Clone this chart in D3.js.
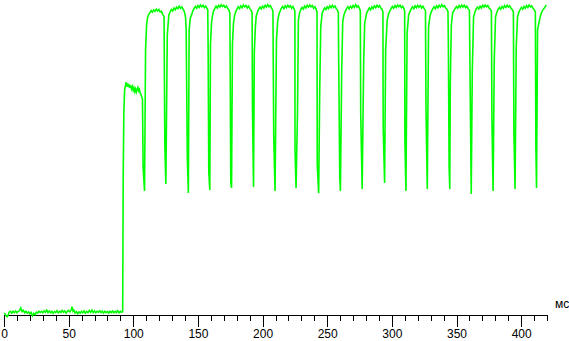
<!DOCTYPE html>
<html>
<head>
<meta charset="UTF-8">
<title>response</title>
<style>
  body { margin: 0; background: #fff; }
  svg { display: block; }
  .trace { fill: none; stroke: #00ff00; stroke-width: 1.6px; stroke-linejoin: miter; }
  .axis path, .axis line { stroke: #000; shape-rendering: crispEdges; }
  .axis text, .unit { font-family: "Liberation Sans", Arial, sans-serif; font-size: 12px; fill: #000; }
</style>
<script src="https://cdn.jsdelivr.net/npm/d3@7/dist/d3.min.js"></script>
</head>
<body>
<svg width="569" height="341"></svg>
<script>
// time in ms, level in relative units
var baseline = [
  [0,0.3],[0.8,0.1],[1.6,-0.6],[2.4,-0.9],[3.2,-0.4],[4,0.6],[5,0.9],[6,0.3],[7,0.9],[8,0.5],
  [9,1.0],[10,0.4],[11,0.9],[12,1.1],[13,2.0],[14,0.8],[15,1.2],[16,0.4],[17,0.9],[18,0.3],
  [19,0.7],[20,0.1],[21,0.5],[22,-0.6],[23,0.2],[24,-0.2],[25,0.6],[26,0.3],[27,0.9],[28,0.5],
  [29,0.9],[30,0.4],[31,1.0],[32,0.6],[33,1.3],[34,0.5],[35,1.0],[36,0.4],[37,0.9],[38,0.2],
  [39,0.8],[40,0.5],[41,1.1],[42,0.4],[43,0.9],[44,0.5],[45,1.2],[46,0.6],[47,1.0],[48,0.3],
  [49,0.9],[50,1.2],[51,0.7],[52,1.4],[52.6,2.4],[53.4,0.9],[54,1.3],[55,0.3],[56,0.8],[57,0.1],
  [58,0.7],[59,0.3],[60,0.9],[61,0.4],[62,1.0],[63,0.3],[64,0.8],[65,0.5],[66,1.2],[67,0.6],
  [68,1.3],[69,0.5],[70,1.0],[71,0.4],[72,0.9],[73,0.6],[74,1.1],[75,0.5],[76,1.0],[77,0.3],
  [78,0.9],[79,0.5],[80,0.8],[81,0.3],[82,0.9],[83,0.5],[84,1.0],[85,0.4],[86,0.9],[87,0.5],
  [88,1.1],[89,0.4],[90,0.9],[91,0.6],[91.8,0.8]
];

var firstFrame = [
  [92.2,45.7],[92.7,67],[93.3,74.7],[93.9,76.0],[94.5,77.3],[95.1,75.8],[95.7,76.9],[96.3,75.6],
  [96.9,76.5],[97.5,75.3],[98.1,76.2],[98.7,75.0],[99.3,75.8],[99.9,74.6],[100.5,75.4],[101.1,74.2],
  [101.7,75.0],[102.3,73.9],[102.9,74.8],[103.5,75.5],[104.1,74.4],[104.7,74.9],[105.3,73.7],
  [105.9,73.2],[106.5,72.3],[107.1,71.7]
];

var frames = [
  [[107.6,49.0],[108.7,41.0],[109.5,88.0],[110.3,96.5],[111.0,98.7],[111.8,99.8],[112.8,100.4],[113.8,101.1],[114.8,100.6],[115.8,101.4],[116.8,100.9],[117.8,101.6],[118.8,101.0],[119.8,101.5],[120.8,100.7],[121.8,100.9],[122.8,99.8],[123.8,99.2]],
  [[124.4,56.3],[125.2,43.3],[126.3,93.0],[127.5,99.7],[128.5,100.6],[129.5,101.5],[130.5,101.0],[131.5,102.0],[132.5,101.4],[133.5,102.3],[134.5,101.8],[135.5,102.6],[136.5,101.9],[137.5,102.4],[138.5,101.6],[139.5,100.8],[140.4,99.0],[140.9,95.0]],
  [[141.8,52.0],[142.6,40.3],[143.2,94.7],[144.1,98.7],[145.1,99.7],[146.0,101.0],[147.0,101.8],[148.0,102.5],[149.0,101.9],[150.0,102.8],[151.0,102.2],[152.0,103.0],[153.0,102.4],[154.0,102.9],[155.0,102.1],[156.0,102.6],[157.0,101.9],[157.6,101.4]],
  [[157.9,88.0],[158.4,47.3],[159.2,41.3],[159.7,89.7],[160.5,97.0],[161.2,99.3],[162.0,100.9],[163.0,101.8],[164.0,102.6],[165.0,102.0],[166.0,102.9],[167.0,102.3],[168.0,103.1],[169.0,102.5],[170.0,102.9],[171.0,102.2],[172.0,102.7],[173.0,101.9],[174.0,101.3],[174.7,100.2]],
  [[175.0,78.7],[175.4,43.7],[176.0,42.0],[176.7,90.0],[177.5,97.0],[178.3,99.3],[179.2,100.7],[180.2,101.6],[181.2,102.4],[182.2,101.8],[183.2,102.7],[184.2,102.1],[185.2,103.0],[186.2,102.4],[187.2,102.8],[188.2,102.0],[189.2,102.6],[190.2,101.8],[191.2,101.2],[191.9,100.3]],
  [[192.2,68.7],[193.0,42.3],[193.6,87.0],[194.4,95.5],[195.1,99.3],[196.0,100.6],[197.0,101.6],[198.0,102.3],[199.0,101.7],[200.0,102.6],[201.0,102.0],[202.0,102.9],[203.0,102.3],[204.0,103.1],[205.0,102.4],[206.0,102.8],[207.0,102.0],[208.0,101.1]],
  [[208.65,59.0],[209.65,41.0],[210.75,91.3],[211.75,98.0],[212.7,99.9],[213.6,101.0],[214.5,101.9],[215.5,102.5],[216.5,101.8],[217.5,102.7],[218.5,102.1],[219.5,102.9],[220.5,102.3],[221.5,102.8],[222.5,101.9],[223.5,102.5],[224.5,101.6],[225.0,100.9]],
  [[225.1,54.7],[225.9,42.0],[227.0,67.0],[227.7,98.0],[228.6,100.3],[229.5,101.4],[230.5,102.2],[231.5,101.6],[232.5,102.6],[233.5,102.0],[234.5,102.9],[235.5,102.3],[236.5,103.0],[237.5,102.4],[238.5,102.8],[239.5,101.9],[240.5,102.4],[241.5,101.5],[242.1,100.6]],
  [[242.3,49.7],[243.4,40.3],[244.2,74.7],[245.0,95.7],[246.1,100.3],[247.0,101.2],[248.0,102.0],[249.0,101.5],[250.0,102.4],[251.0,101.8],[252.0,102.7],[253.0,102.1],[254.0,102.9],[255.0,102.2],[256.0,102.7],[257.0,101.8],[258.0,101.2],[258.6,100.4]],
  [[258.9,83.7],[259.7,45.7],[260.2,41.0],[261.2,80.7],[262.0,97.5],[263.0,99.8],[264.0,100.9],[265.0,101.8],[266.0,102.4],[267.0,101.7],[268.0,102.6],[269.0,102.0],[270.0,102.8],[271.0,102.2],[272.0,103.1],[273.0,102.3],[274.0,102.7],[275.0,101.8],[275.6,101.0]],
  [[275.9,67.0],[277.05,41.7],[278.2,84.0],[279.0,97.0],[280.5,100.3],[281.5,101.2],[282.5,102.0],[283.5,101.4],[284.5,102.4],[285.5,101.8],[286.5,102.7],[287.5,102.1],[288.5,102.9],[289.5,102.3],[290.5,102.8],[291.5,102.0],[292.5,101.5],[293.1,100.6]],
  [[293.3,62.0],[294.4,43.7],[295.2,88.0],[296.4,98.0],[297.4,99.9],[298.4,101.0],[299.4,101.8],[300.4,102.5],[301.4,101.9],[302.4,102.8],[303.4,102.2],[304.4,103.0],[305.4,102.4],[306.4,102.9],[307.4,102.1],[308.4,102.6],[309.4,101.7],[309.9,101.0]],
  [[310.1,57.3],[310.9,41.0],[311.8,93.7],[313.0,99.7],[314.0,100.8],[315.0,101.7],[316.0,102.4],[317.0,101.8],[318.0,102.7],[319.0,102.1],[320.0,102.9],[321.0,102.3],[322.0,102.8],[323.0,102.0],[324.0,102.6],[325.0,101.8],[326.0,101.2]],
  [[326.4,69.0],[327.4,41.7],[328.4,95.7],[329.6,99.5],[330.6,100.8],[331.6,101.7],[332.6,102.4],[333.6,101.8],[334.6,102.7],[335.6,102.1],[336.6,102.9],[337.6,102.3],[338.6,103.1],[339.6,102.4],[340.6,102.8],[341.6,102.0],[342.6,101.6],[343.4,100.8]],
  [[343.7,90.3],[344.3,49.0],[344.8,41.7],[345.2,77.0],[346.0,96.3],[347.0,100.3],[348.0,101.1],[349.0,101.9],[350.0,102.5],[351.0,101.9],[352.0,102.8],[353.0,102.2],[354.0,103.0],[355.0,102.3],[356.0,102.9],[357.0,102.1],[358.0,102.6],[359.0,101.8],[360.0,101.2]],
  [[360.65,72.3],[361.4,40.0],[362.2,80.7],[363.2,99.0],[364.2,100.6],[365.2,101.6],[366.2,102.3],[367.2,101.7],[368.2,102.6],[369.2,102.0],[370.2,102.9],[371.2,102.3],[372.2,103.0],[373.2,102.4],[374.2,102.8],[375.2,102.0],[376.2,101.6],[377.0,100.9]],
  [[377.4,64.7],[378.3,41.0],[379.2,84.7],[380.2,99.0],[381.2,100.6],[382.2,101.5],[383.2,102.2],[384.2,101.6],[385.2,102.5],[386.2,101.9],[387.2,102.8],[388.2,102.2],[389.2,102.9],[390.2,102.3],[391.2,102.7],[392.2,101.9],[393.2,101.4],[394.0,100.7]],
  [[394.4,60.3],[395.3,41.7],[396.2,89.0],[397.2,99.0],[398.2,100.5],[399.2,101.5],[400.2,102.2],[401.2,101.6],[402.2,102.5],[403.2,101.9],[404.2,102.8],[405.2,102.2],[406.2,103.0],[407.2,102.4],[408.2,102.7],[409.2,101.9],[410.2,101.4],[411.0,100.6]],
  [[411.4,55.7],[411.9,42.0],[412.7,94.7],[414.2,98.0],[415.2,99.8],[416.2,100.9],[417.2,101.6],[418.3,102.2],[419.4,103.0]]
];

var majorTicks = [0, 50, 100, 150, 200, 250, 300, 350, 400];
var minorTicks = [0,10,20,30,40,50,60,70,80,90,100,110,120,130,140,150,160,170,180,190,200,
                  210,220,230,240,250,260,270,280,290,300,310,320,330,340,350,360,370,380,390,400,410,420];
var unitLabel = "мс";

var svg = d3.select("svg");

var x = d3.scaleLinear().domain([0, 420]).range([4, 547]);
var y = d3.scaleLinear().domain([0, 100]).range([314, 14]);

//... axis: minor ticks first, then major ticks with labels
svg.append("g")
    .attr("class", "axis")
    .attr("transform", "translate(0,315)")
    .call(d3.axisBottom(x).tickValues(minorTicks).tickSize(6).tickSizeOuter(0).tickFormat(""));

var major = svg.append("g")
    .attr("class", "axis")
    .attr("transform", "translate(0,315)")
    .call(d3.axisBottom(x).tickValues(majorTicks).tickSize(12).tickSizeOuter(0).tickPadding(2));
major.select(".domain").remove();
major.attr("font-family", null).attr("font-size", null);

svg.append("text")
    .attr("class", "unit")
    .attr("x", 555)
    .attr("y", 308)
    .text(unitLabel);

var trace = baseline.concat(firstFrame);
frames.forEach(function (f) { trace = trace.concat(f); });

var line = d3.line()
    .x(d => x(d[0]))
    .y(d => y(d[1]));

svg.append("path")
    .datum(trace)
    .attr("class", "trace")
    .attr("d", line);
</script>
</body>
</html>
